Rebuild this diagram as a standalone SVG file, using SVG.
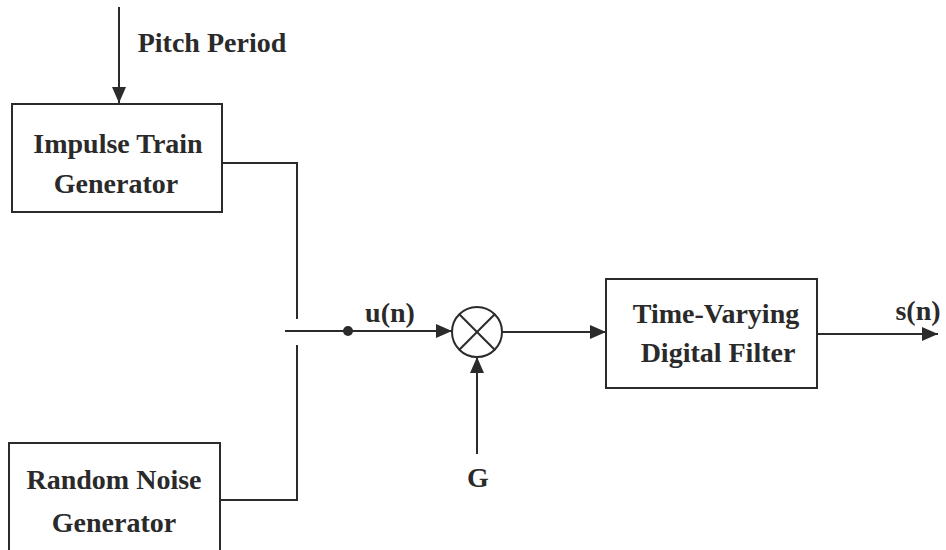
<svg xmlns="http://www.w3.org/2000/svg" width="946" height="550" viewBox="0 0 946 550">
<style>
.box{fill:#fff;stroke:#2b2b2b;stroke-width:2}
.ln{fill:none;stroke:#2b2b2b;stroke-width:2}
.t{font-family:"Liberation Serif","Times New Roman",serif;font-weight:bold;font-size:28px;fill:#2a2a2a;text-anchor:middle}
</style>
<defs>
<marker id="ah" viewBox="0 0 16 14" refX="16" refY="7" markerWidth="16" markerHeight="14" markerUnits="userSpaceOnUse" orient="auto">
<path d="M0,0 L16,7 L0,14 Z" fill="#2b2b2b"/>
</marker>
</defs>
<rect width="946" height="550" fill="#fff"/>
<g id="connectors">
<line class="ln" x1="119" y1="7" x2="119" y2="103" marker-end="url(#ah)"/>
<polyline class="ln" points="222,163 297,163 297,319"/>
<polyline class="ln" points="220,500 297,500 297,345"/>
<line class="ln" x1="285" y1="331" x2="452" y2="331" marker-end="url(#ah)"/>
<circle cx="348" cy="331" r="5" fill="#2b2b2b"/>
<line class="ln" x1="477" y1="454" x2="477" y2="357" marker-end="url(#ah)"/>
<line class="ln" x1="502" y1="332" x2="606" y2="332" marker-end="url(#ah)"/>
<line class="ln" x1="817" y1="334" x2="938" y2="334" marker-end="url(#ah)"/>
</g>
<g id="pitch-label"><text class="t" x="212" y="52">Pitch Period</text></g>
<g id="impulse">
<rect class="box" x="12" y="104" width="210" height="108"/>
<text class="t" x="118" y="153">Impulse Train</text>
<text class="t" x="116" y="193">Generator</text>
</g>
<g id="noise">
<rect class="box" x="9" y="443" width="211" height="120"/>
<text class="t" x="114" y="489">Random Noise</text>
<text class="t" x="114" y="532">Generator</text>
</g>
<g id="u-label"><text class="t" x="390" y="322">u(n)</text></g>
<g id="multiplier">
<circle class="box" cx="477" cy="332" r="25"/>
<line class="ln" x1="459.3" y1="314.3" x2="494.7" y2="349.7"/>
<line class="ln" x1="494.7" y1="314.3" x2="459.3" y2="349.7"/>
</g>
<g id="g-label"><text class="t" x="478" y="487">G</text></g>
<g id="filter">
<rect class="box" x="606" y="279" width="211" height="109"/>
<text class="t" x="716" y="323">Time-Varying</text>
<text class="t" x="718" y="362">Digital Filter</text>
</g>
<g id="s-label"><text class="t" x="918" y="320">s(n)</text></g>
</svg>
